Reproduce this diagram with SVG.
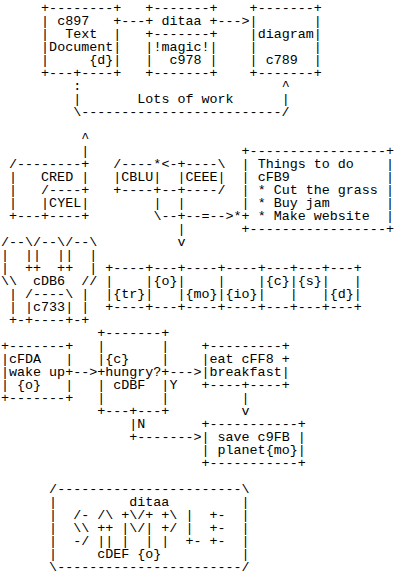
<svg xmlns="http://www.w3.org/2000/svg" width="405" height="587" viewBox="0 0 405 587" xml:space="preserve">
<style>
text { font-family: "Liberation Mono", "DejaVu Sans Mono", monospace; font-size: 13.37px; fill: #000; white-space: pre; }
</style>
<rect x="0" y="0" width="405" height="587" fill="#fff"/>
<g id="node-c897">
<text x="41.10" y="12.3">+--------+</text>
<text x="41.10" y="25.3">| c897   +</text>
<text x="41.10" y="38.3">|  Text  |</text>
<text x="41.10" y="51.3">|Document|</text>
<text x="41.10" y="64.3">|     {d}|</text>
<text x="41.10" y="77.3">+---+----+</text>
</g>
<g id="node-ditaa">
<text x="145.36" y="12.3">+-------+</text>
<text x="145.36" y="25.3">+ ditaa +</text>
<text x="145.36" y="38.3">+-------+</text>
<text x="145.36" y="51.3">|!magic!|</text>
<text x="145.36" y="64.3">|  c978 |</text>
<text x="145.36" y="77.3">+-------+</text>
</g>
<g id="node-diagram">
<text x="249.62" y="12.3">+-------+</text>
<text x="249.62" y="25.3">|       |</text>
<text x="249.62" y="38.3">|diagram|</text>
<text x="249.62" y="51.3">|       |</text>
<text x="249.62" y="64.3">| c789  |</text>
<text x="249.62" y="77.3">+-------+</text>
</g>
<g id="node-cred">
<text x="9.02" y="168.3">/--------+</text>
<text x="9.02" y="181.3">|   CRED |</text>
<text x="9.02" y="194.3">|</text>
<text x="9.02" y="207.3">|</text>
<text x="9.02" y="220.3">+---</text>
</g>
<g id="node-cyel">
<text x="41.10" y="194.3">/----+</text>
<text x="41.10" y="207.3">|CYEL|</text>
<text x="41.10" y="220.3">+----+</text>
</g>
<g id="node-cblu">
<text x="113.28" y="168.3">/----*</text>
<text x="113.28" y="181.3">|CBLU|</text>
<text x="113.28" y="194.3">+----+</text>
</g>
<g id="node-ceee">
<text x="177.44" y="168.3">+----\</text>
<text x="177.44" y="181.3">|CEEE|</text>
<text x="177.44" y="194.3">+----/</text>
</g>
<g id="node-things">
<text x="241.60" y="155.3">+-----------------+</text>
<text x="241.60" y="168.3">| Things to do    |</text>
<text x="241.60" y="181.3">| cFB9            |</text>
<text x="241.60" y="194.3">| * Cut the grass |</text>
<text x="241.60" y="207.3">| * Buy jam       |</text>
<text x="241.60" y="220.3">+ * Make website  |</text>
<text x="241.60" y="233.3">+-----------------+</text>
</g>
<g id="node-cdb6">
<text x="1.00" y="246.3">/--\/--\/--\</text>
<text x="1.00" y="259.3">|  ||  ||  |</text>
<text x="1.00" y="272.3">|  ++  ++  |</text>
<text x="1.00" y="285.3">\\  cDB6  //</text>
<text x="1.00" y="298.3"> | /----\ |</text>
<text x="1.00" y="311.3"> | |c733| |</text>
<text x="1.00" y="324.3"> +-+----+-+</text>
</g>
<g id="node-tr">
<text x="105.26" y="272.3">+----</text>
<text x="105.26" y="285.3">|</text>
<text x="105.26" y="298.3">|{tr}</text>
<text x="105.26" y="311.3">+----</text>
</g>
<g id="node-o">
<text x="145.36" y="272.3">+---</text>
<text x="145.36" y="285.3">|{o}</text>
<text x="145.36" y="298.3">|</text>
<text x="145.36" y="311.3">+---</text>
</g>
<g id="node-mo">
<text x="177.44" y="272.3">+----</text>
<text x="177.44" y="285.3">|</text>
<text x="177.44" y="298.3">|{mo}</text>
<text x="177.44" y="311.3">+----</text>
</g>
<g id="node-io">
<text x="217.54" y="272.3">+----</text>
<text x="217.54" y="285.3">|</text>
<text x="217.54" y="298.3">|{io}</text>
<text x="217.54" y="311.3">+----</text>
</g>
<g id="node-c">
<text x="257.64" y="272.3">+---</text>
<text x="257.64" y="285.3">|{c}</text>
<text x="257.64" y="298.3">|</text>
<text x="257.64" y="311.3">+---</text>
</g>
<g id="node-s">
<text x="289.72" y="272.3">+---</text>
<text x="289.72" y="285.3">|{s}</text>
<text x="289.72" y="298.3">|</text>
<text x="289.72" y="311.3">+---</text>
</g>
<g id="node-d">
<text x="321.80" y="272.3">+---+</text>
<text x="321.80" y="285.3">|   |</text>
<text x="321.80" y="298.3">|{d}|</text>
<text x="321.80" y="311.3">+---+</text>
</g>
<g id="node-cfda">
<text x="1.00" y="350.3">+-------+</text>
<text x="1.00" y="363.3">|cFDA   |</text>
<text x="1.00" y="376.3">|wake up+</text>
<text x="1.00" y="389.3">| {o}   |</text>
<text x="1.00" y="402.3">+-------+</text>
</g>
<g id="node-hungry">
<text x="97.24" y="337.3">+-------+</text>
<text x="97.24" y="350.3">|       |</text>
<text x="97.24" y="363.3">|{c}    |</text>
<text x="97.24" y="376.3">+hungry?+</text>
<text x="97.24" y="389.3">| cDBF  |</text>
<text x="97.24" y="402.3">|       |</text>
<text x="97.24" y="415.3">+---+---+</text>
</g>
<g id="node-eat">
<text x="201.50" y="350.3">+---------+</text>
<text x="201.50" y="363.3">|eat cFF8 +</text>
<text x="201.50" y="376.3">|breakfast|</text>
<text x="201.50" y="389.3">+----+----+</text>
</g>
<g id="node-save">
<text x="201.50" y="428.3">+-----------+</text>
<text x="201.50" y="441.3">| save c9FB |</text>
<text x="201.50" y="454.3">| planet{mo}|</text>
<text x="201.50" y="467.3">+-----------+</text>
</g>
<g id="node-logo">
<text x="49.12" y="493.3">/-----------------------\</text>
<text x="49.12" y="506.3">|         ditaa         |</text>
<text x="49.12" y="519.3">|  /- /\ +\/+ +\ |  +-  |</text>
<text x="49.12" y="532.3">|  \\ ++ |\/| +/ |  +-  |</text>
<text x="49.12" y="545.3">|  -/ || |  | |  +- +-  |</text>
<text x="49.12" y="558.3">|     cDEF {o}          |</text>
<text x="49.12" y="571.3">\-----------------------/</text>
</g>
<g id="connectors">
<text x="121.30" y="25.3">---</text>
<text x="217.54" y="25.3">---&gt;</text>
<text x="73.18" y="90.3">:</text>
<text x="281.70" y="90.3">^</text>
<text x="73.18" y="103.3">|</text>
<text x="281.70" y="103.3">|</text>
<text x="73.18" y="116.3">\-------------------------/</text>
<text x="137.34" y="103.3">Lots of work</text>
<text x="81.20" y="142.3">^</text>
<text x="81.20" y="155.3">|</text>
<text x="161.40" y="168.3">&lt;-</text>
<text x="161.40" y="194.3">--</text>
<text x="153.38" y="207.3">|</text>
<text x="177.44" y="207.3">|</text>
<text x="153.38" y="220.3">\--+--=--&gt;*</text>
<text x="177.44" y="233.3">|</text>
<text x="177.44" y="246.3">v</text>
<text x="73.18" y="376.3">--&gt;</text>
<text x="169.42" y="376.3">---&gt;</text>
<text x="169.42" y="389.3">Y</text>
<text x="241.60" y="402.3">|</text>
<text x="241.60" y="415.3">v</text>
<text x="129.32" y="428.3">|</text>
<text x="137.34" y="428.3">N</text>
<text x="129.32" y="441.3">+-------&gt;</text>
</g>
</svg>
